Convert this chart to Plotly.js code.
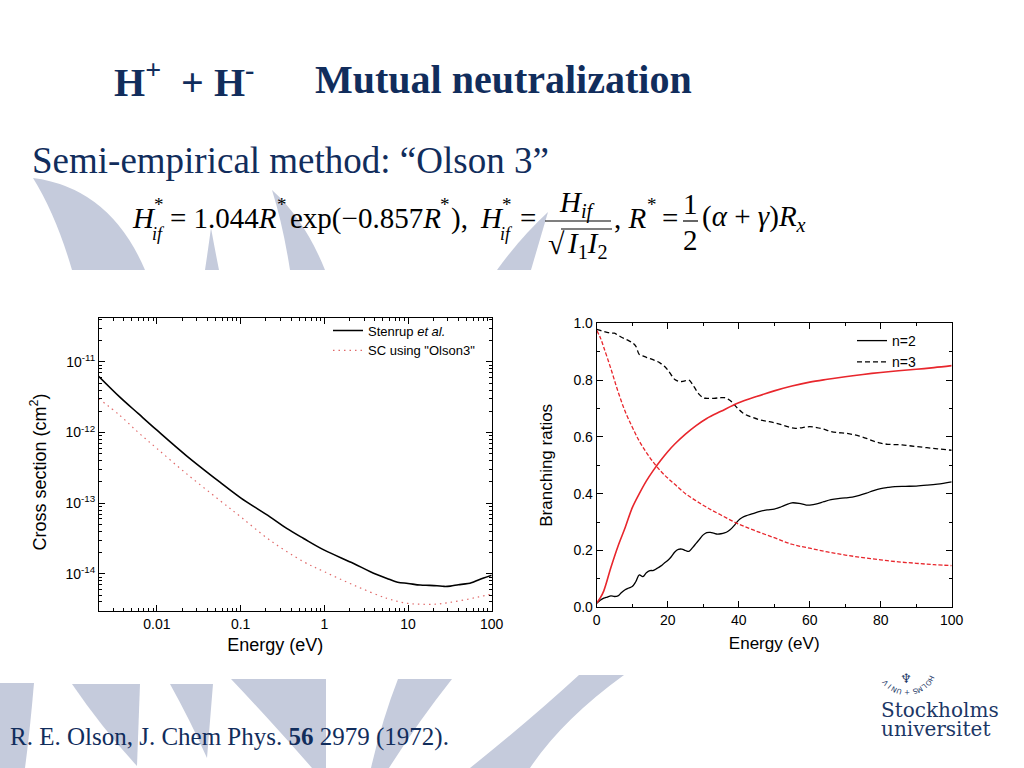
<!DOCTYPE html>
<html>
<head>
<meta charset="utf-8">
<script src="https://cdn.plot.ly/plotly-3.0.1.min.js"></script>
<style>html,body{margin:0;padding:0;background:#fff;}#chart{width:1024px;height:768px;}</style>
</head>
<body>
<div id="chart"></div>
<script>
// ---------- Data: left panel (cross sections, cm^2) ----------
const stenrupEnergy = [0.00201, 0.00358, 0.006, 0.01, 0.0224, 0.0561, 0.1, 0.224, 0.355, 0.566, 1, 2.24, 3.55, 5.61, 7.5, 10, 14, 18, 22.2, 27, 32, 40, 46, 55, 61.7, 80, 100];
const stenrupSigma  = [6.27e-12, 3.20e-12, 1.85e-12, 1.08e-12, 4.73e-13, 2.0e-13, 1.19e-13, 6.41e-14, 4.39e-14, 3.16e-14, 2.16e-14, 1.40e-14, 1.07e-14, 8.59e-15, 7.6e-15, 7.3e-15, 6.92e-15, 6.85e-15, 6.76e-15, 6.62e-15, 6.68e-15, 7.0e-15, 7.14e-15, 7.35e-15, 7.71e-15, 8.7e-15, 9.55e-15];
const olsonEnergy   = [0.00201, 0.00358, 0.006, 0.01, 0.0224, 0.0561, 0.1, 0.224, 0.566, 1, 2.24, 5.61, 10, 15, 22.2, 30, 46.2, 70, 100];
const olsonSigma    = [3.03e-12, 1.76e-12, 1.0e-12, 5.94e-13, 2.63e-13, 1.10e-13, 6.41e-14, 2.99e-14, 1.48e-14, 1.07e-14, 6.92e-15, 4.48e-15, 3.8e-15, 3.7e-15, 3.72e-15, 3.9e-15, 4.24e-15, 4.7e-15, 5.15e-15];
const sigmaTickVals = [1e-14, 1e-13, 1e-12, 1e-11];
const sigmaTickText = ['10<sup>-14</sup>', '10<sup>-13</sup>', '10<sup>-12</sup>', '10<sup>-11</sup>'];
const energyTickVals = [0.01, 0.1, 1, 10, 100];
const energyTickText = ['0.01', '0.1', '1', '10', '100'];

// ---------- Data: right panel (branching ratios) ----------
const n2Energy = [0,1,2,3,4,5,6,7,8,9,10,11,12,13,14,15,16,17,18,19,20,21,22,23,24,25,26,27,28,29,30,31,32,33,34,35,36,37,38,39,40,41,42,44,46,48,50,52,54,55,57,59,60,62,64,66,68,70,72,74,76,78,80,82,84,87,90,93,96,100];
const n2Ratio  = [0.014,0.025,0.032,0.036,0.04,0.038,0.04,0.052,0.062,0.068,0.073,0.09,0.114,0.108,0.122,0.129,0.13,0.137,0.145,0.155,0.165,0.178,0.195,0.204,0.205,0.2,0.197,0.21,0.225,0.24,0.255,0.263,0.264,0.261,0.258,0.259,0.262,0.268,0.278,0.292,0.307,0.316,0.322,0.33,0.338,0.343,0.346,0.354,0.364,0.368,0.366,0.36,0.36,0.364,0.372,0.379,0.383,0.385,0.388,0.394,0.402,0.411,0.418,0.422,0.425,0.426,0.427,0.43,0.434,0.442];
const n3Energy = [0,1,2,3,4,5,6,7,8,9,10,11,12,13,14,15,16,17,18,19,20,21,22,23,24,25,26,27,28,29,30,31,33,35,36,37,38,39,40,41,42,44,46,48,50,52,54,56,58,60,62,64,66,68,70,72,74,76,78,80,82,84,86,88,90,93,96,100];
const n3Ratio  = [0.979,0.975,0.971,0.968,0.965,0.965,0.958,0.951,0.945,0.939,0.932,0.92,0.89,0.885,0.88,0.876,0.871,0.866,0.859,0.85,0.836,0.818,0.802,0.796,0.795,0.798,0.8,0.785,0.765,0.748,0.738,0.736,0.736,0.738,0.738,0.733,0.724,0.71,0.697,0.686,0.678,0.668,0.66,0.655,0.65,0.643,0.635,0.63,0.633,0.636,0.633,0.627,0.619,0.615,0.613,0.609,0.603,0.595,0.585,0.578,0.574,0.573,0.572,0.569,0.566,0.562,0.558,0.553];
const scEnergy = [0,1,2,4,6,8,10,12,14,16,18,20,22,25,28,31,35,40,45,50,55,60,65,70,75,80,85,90,95,100];
const scN2     = [0.015,0.033,0.058,0.14,0.215,0.28,0.35,0.4,0.445,0.483,0.517,0.548,0.575,0.61,0.64,0.665,0.69,0.72,0.742,0.762,0.779,0.793,0.803,0.812,0.82,0.827,0.833,0.838,0.844,0.851];
const scN3     = [0.975,0.95,0.915,0.84,0.76,0.69,0.635,0.585,0.545,0.51,0.48,0.455,0.433,0.4,0.375,0.352,0.325,0.293,0.268,0.245,0.222,0.208,0.195,0.184,0.175,0.167,0.16,0.155,0.15,0.147];

// ---------- helpers (pixel -> paper) ----------
const W = 1024, H = 768;
const px = x => x / W;
const py = y => 1 - y / H;
const NAVY = '#112d5c';
const SERIF = 'Liberation Serif, Times New Roman, serif';
const SANS = 'Liberation Sans, Arial, sans-serif';

function path(cmds) {
  return cmds.map(c => {
    const op = c[0]; const nums = c.slice(1);
    const out = [];
    for (let i = 0; i < nums.length; i += 2) out.push(px(nums[i]).toFixed(5) + ',' + py(nums[i + 1]).toFixed(5));
    return op + ' ' + out.join(' ');
  }).join(' ') + ' Z';
}
const BG = 'rgb(197,203,220)';
function bgShape(cmds) {
  return {type: 'path', xref: 'paper', yref: 'paper', path: path(cmds), fillcolor: BG, line: {width: 0}, layer: 'below'};
}
function ann(x, y, text, size, opt) {
  opt = opt || {};
  return Object.assign({
    xref: 'paper', yref: 'paper', x: px(x), y: py(y), text: text, showarrow: false,
    xanchor: opt.xa || 'left', yanchor: 'middle',
    font: {family: opt.family || SERIF, size: size, color: opt.color || '#000'}
  }, opt.extra || {});
}
function hline(x0, x1, y, w) {
  return {type: 'line', xref: 'paper', yref: 'paper', x0: px(x0), x1: px(x1), y0: py(y), y1: py(y), line: {color: '#000', width: w || 1.2}};
}
const pad = n => '&nbsp;'.repeat(n);

// ---------- traces ----------
const traces = [
  {x: stenrupEnergy, y: stenrupSigma, xaxis: 'x', yaxis: 'y', mode: 'lines', name: 'Stenrup <i>et al.</i>',
   line: {color: '#000', width: 1.6, shape: 'spline'}, legend: 'legend'},
  {x: olsonEnergy, y: olsonSigma, xaxis: 'x', yaxis: 'y', mode: 'lines', name: 'SC using "Olson3"',
   line: {color: '#e06a6a', width: 1.2, dash: '1.5px,4px', shape: 'spline'}, legend: 'legend'},
  {x: n2Energy, y: n2Ratio, xaxis: 'x2', yaxis: 'y2', mode: 'lines', name: 'n=2',
   line: {color: '#000', width: 1.3, shape: 'spline'}, legend: 'legend2'},
  {x: n3Energy, y: n3Ratio, xaxis: 'x2', yaxis: 'y2', mode: 'lines', name: 'n=3',
   line: {color: '#000', width: 1.3, dash: '5px,3px', shape: 'spline'}, legend: 'legend2'},
  {x: scEnergy, y: scN2, xaxis: 'x2', yaxis: 'y2', mode: 'lines', name: 'SC n=2', showlegend: false,
   line: {color: '#e8262c', width: 1.6, shape: 'spline'}},
  {x: scEnergy, y: scN3, xaxis: 'x2', yaxis: 'y2', mode: 'lines', name: 'SC n=3', showlegend: false,
   line: {color: '#e8262c', width: 1.3, dash: '4px,2px', shape: 'spline'}}
];

const axBase = {
  showline: true, linecolor: '#000', linewidth: 1, mirror: 'ticks', ticks: 'inside', ticklen: 6,
  tickcolor: '#000', tickwidth: 1, showgrid: false, zeroline: false,
  tickfont: {family: SANS, size: 14, color: '#000'}
};
const titleFont = {family: SANS, size: 17, color: '#000'};

const layout = {
  width: W, height: H, margin: {l: 0, r: 0, t: 0, b: 0},
  paper_bgcolor: '#fff', plot_bgcolor: 'rgba(0,0,0,0)',
  showlegend: true,
  xaxis: Object.assign({}, axBase, {
    domain: [px(99), px(491.7)], anchor: 'y', type: 'log', range: [Math.log10(0.00203), 2],
    tickmode: 'array', tickvals: energyTickVals, ticktext: energyTickText,
    minor: {ticks: 'inside', ticklen: 3, tickcolor: '#000', dtick: 'D1', showgrid: false},
    title: {text: 'Energy (eV)' + pad(8), font: {family: SANS, size: 18, color: '#000'}, standoff: 7}
  }),
  yaxis: Object.assign({}, axBase, {
    domain: [py(610.7), py(318.3)], anchor: 'x', type: 'log', range: [-14.523, -10.382],
    tickmode: 'array', tickvals: sigmaTickVals, ticktext: sigmaTickText,
    minor: {ticks: 'inside', ticklen: 3, tickcolor: '#000', dtick: 'D1', showgrid: false},
    title: {text: 'Cross section (cm<sup>2</sup>)' + pad(3), font: {family: SANS, size: 18, color: '#000'}, standoff: 14}
  }),
  xaxis2: Object.assign({}, axBase, {
    domain: [px(596.7), px(951.7)], anchor: 'y2', range: [0, 100], dtick: 20, tick0: 0,
    minor: {ticks: 'inside', ticklen: 3, tickcolor: '#000', dtick: 10, showgrid: false},
    title: {text: 'Energy (eV)', font: titleFont, standoff: 10}
  }),
  yaxis2: Object.assign({}, axBase, {
    domain: [py(607.3), py(323.3)], anchor: 'x2', range: [0, 1], dtick: 0.2, tick0: 0, tickformat: '.1f',
    minor: {ticks: 'inside', ticklen: 3, tickcolor: '#000', dtick: 0.1, showgrid: false},
    title: {text: 'Branching ratios', font: titleFont, standoff: 16}
  }),
  legend: {x: px(328), y: py(315.5), xanchor: 'left', yanchor: 'top', bgcolor: 'rgba(0,0,0,0)',
    borderwidth: 0, font: {family: SANS, size: 13, color: '#000'}, tracegroupgap: 0},
  legend2: {x: px(852), y: py(325), xanchor: 'left', yanchor: 'top', bgcolor: 'rgba(0,0,0,0)',
    borderwidth: 0, font: {family: SANS, size: 14, color: '#000'}, tracegroupgap: 0},
  shapes: [
    // top decorative band
    bgShape([['M', 33, 178], ['Q', 110, 188, 145, 270], ['L', 72, 270], ['Q', 56, 215, 33, 178]]),
    bgShape([['M', 211, 228], ['Q', 215, 250, 219, 270], ['L', 205, 270], ['Q', 208, 250, 211, 228]]),
    bgShape([['M', 272, 190], ['Q', 305, 220, 325, 270], ['L', 290, 270], ['Q', 283, 225, 272, 190]]),
    bgShape([['M', 548, 212], ['L', 531, 270], ['L', 497, 270], ['Q', 520, 238, 548, 212]]),
    // bottom decorative band
    bgShape([['M', 0, 683], ['L', 34, 683], ['Q', 30, 730, 25, 768], ['L', 0, 768]]),
    bgShape([['M', 72, 684], ['L', 140, 684], ['L', 137, 766], ['Q', 102, 728, 72, 684]]),
    bgShape([['M', 170, 684], ['L', 213, 684], ['L', 207, 758], ['Q', 190, 720, 170, 684]]),
    bgShape([['M', 231, 679], ['L', 326, 679], ['L', 326, 768], ['L', 312, 768], ['Q', 270, 720, 231, 679]]),
    bgShape([['M', 398, 679], ['L', 452, 679], ['Q', 418, 722, 389, 768], ['L', 371, 768], ['Q', 382, 720, 398, 679]]),
    bgShape([['M', 579, 675], ['L', 624, 675], ['Q', 562, 720, 530, 768], ['L', 470, 768], ['Q', 530, 720, 579, 675]]),
    // fraction bars and radical vinculum
    hline(545, 611, 221, 1.2),
    hline(561, 612, 229, 1.1),
    hline(683, 698, 221, 1.2)
  ],
  annotations: [
    ann(112, 80, '<b>H<sup>+</sup>&nbsp; + H<sup>-</sup></b>', 40, {color: NAVY}),
    ann(313, 80, '<b>Mutual neutralization</b>', 40, {color: NAVY}),
    ann(30, 161, 'Semi-empirical method: “Olson 3”', 37, {color: NAVY}),
    // formula
    ann(130, 218, '<i>H</i>', 29),
    ann(152, 204, '*', 19),
    ann(150, 234, '<i>if</i>', 18),
    ann(168, 218, '= 1.044<i>R</i>', 29),
    ann(275, 204, '*', 19),
    ann(288, 218, 'exp(−0.857<i>R</i>', 29),
    ann(438, 204, '*', 19),
    ann(449, 218, '),', 29),
    ann(478, 218, '<i>H</i>', 29),
    ann(500, 204, '*', 19),
    ann(498, 234, '<i>if</i>', 18),
    ann(518, 218, '=', 29),
    ann(577, 204, '<i>H</i><sub><i>if</i></sub>', 29, {xa: 'center'}),
    ann(546, 244, '√', 30),
    ann(587, 245, '<i>I</i><sub>1</sub><i>I</i><sub>2</sub>', 29, {xa: 'center'}),
    ann(612, 218, ', <i>R</i>', 29),
    ann(645, 204, '*', 19),
    ann(660, 218, '=', 29),
    ann(690, 204, '1', 29, {xa: 'center'}),
    ann(690, 240, '2', 29, {xa: 'center'}),
    ann(700, 218, '(<i>α</i> + <i>γ</i>)<i>R</i><sub><i>x</i></sub>', 29),
    // reference
    ann(8, 737, 'R. E. Olson, J. Chem Phys. <b>56</b> 2979 (1972).', 25, {color: NAVY}),
    // logo
    ann(879, 710, 'Stockholms', 20, {family: 'DejaVu Serif, serif', color: '#1c3766'}),
    ann(879, 729, 'universitet', 20, {family: 'DejaVu Serif, serif', color: '#1c3766'}),
    ann(906, 678, '♆', 13, {family: 'DejaVu Sans', color: '#1c3766', xa: 'center'})
  ]
};

// emblem ring letters (bottom arc of the seal)
const sealLetters = ['H', 'O', 'L', 'M', 'S', '+', 'U', 'N', 'I', 'V'];
const sealAngles = [25, 37, 49, 61, 73, 90, 107, 119, 131, 143];
sealLetters.forEach((ch, i) => {
  const a = sealAngles[i] * Math.PI / 180;
  const cx = 907 + 26 * Math.cos(a), cy = 668 + 24 * Math.sin(a);
  layout.annotations.push({xref: 'paper', yref: 'paper', x: px(cx), y: py(cy), text: ch, showarrow: false,
    xanchor: 'center', yanchor: 'middle', textangle: sealAngles[i] - 90 + 180,
    font: {family: 'DejaVu Sans', size: 7, color: '#1c3766'}});
});

Plotly.newPlot('chart', traces, layout, {staticPlot: true, displayModeBar: false});
</script>
</body>
</html>
